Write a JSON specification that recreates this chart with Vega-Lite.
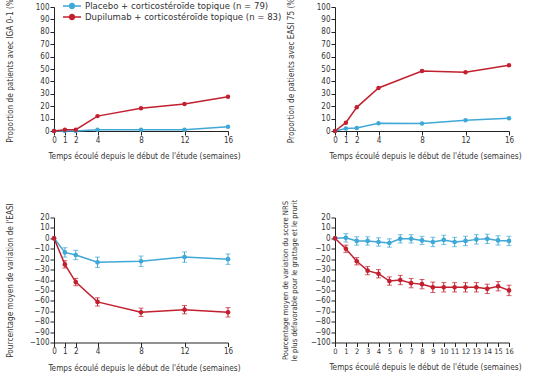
{
  "$schema": "https://vega.github.io/schema/vega-lite/v6.json",
  "padding": {"left": 4, "top": -5, "right": 5, "bottom": 5},
  "background": "white",
  "config": {
    "font": "Liberation Sans Narrow, DejaVu Sans Condensed, Liberation Sans, sans-serif",
    "view": {"stroke": null},
    "axis": {"grid": false, "domainColor": "#222", "tickColor": "#222", "labelColor": "#333", "titleColor": "#333", "labelFontSize": 8, "titleFontSize": 8.2, "titleFontWeight": "normal", "tickSize": 4, "labelPadding": 1, "domainWidth": 1, "labelOverlap": false},
    "axisX": {"labelFlush": false}
  },
  "datasets": {
    "d": [
      {"panel": "IGA", "group": "Placebo + corticostéroïde topique (n = 79)", "week": 0, "value": 0},
      {"panel": "IGA", "group": "Placebo + corticostéroïde topique (n = 79)", "week": 1, "value": 0},
      {"panel": "IGA", "group": "Placebo + corticostéroïde topique (n = 79)", "week": 2, "value": 0},
      {"panel": "IGA", "group": "Placebo + corticostéroïde topique (n = 79)", "week": 4, "value": 1},
      {"panel": "IGA", "group": "Placebo + corticostéroïde topique (n = 79)", "week": 8, "value": 1},
      {"panel": "IGA", "group": "Placebo + corticostéroïde topique (n = 79)", "week": 12, "value": 1},
      {"panel": "IGA", "group": "Placebo + corticostéroïde topique (n = 79)", "week": 16, "value": 3.5},
      {"panel": "IGA", "group": "Dupilumab + corticostéroïde topique (n = 83)", "week": 0, "value": 0},
      {"panel": "IGA", "group": "Dupilumab + corticostéroïde topique (n = 83)", "week": 1, "value": 1},
      {"panel": "IGA", "group": "Dupilumab + corticostéroïde topique (n = 83)", "week": 2, "value": 1},
      {"panel": "IGA", "group": "Dupilumab + corticostéroïde topique (n = 83)", "week": 4, "value": 12},
      {"panel": "IGA", "group": "Dupilumab + corticostéroïde topique (n = 83)", "week": 8, "value": 18.3},
      {"panel": "IGA", "group": "Dupilumab + corticostéroïde topique (n = 83)", "week": 12, "value": 21.8},
      {"panel": "IGA", "group": "Dupilumab + corticostéroïde topique (n = 83)", "week": 16, "value": 27.7},

      {"panel": "EASI75", "group": "Placebo + corticostéroïde topique (n = 79)", "week": 0, "value": 0},
      {"panel": "EASI75", "group": "Placebo + corticostéroïde topique (n = 79)", "week": 1, "value": 2},
      {"panel": "EASI75", "group": "Placebo + corticostéroïde topique (n = 79)", "week": 2, "value": 2.5},
      {"panel": "EASI75", "group": "Placebo + corticostéroïde topique (n = 79)", "week": 4, "value": 6.2},
      {"panel": "EASI75", "group": "Placebo + corticostéroïde topique (n = 79)", "week": 8, "value": 6},
      {"panel": "EASI75", "group": "Placebo + corticostéroïde topique (n = 79)", "week": 12, "value": 8.6},
      {"panel": "EASI75", "group": "Placebo + corticostéroïde topique (n = 79)", "week": 16, "value": 10.2},
      {"panel": "EASI75", "group": "Dupilumab + corticostéroïde topique (n = 83)", "week": 0, "value": 0},
      {"panel": "EASI75", "group": "Dupilumab + corticostéroïde topique (n = 83)", "week": 1, "value": 6.7},
      {"panel": "EASI75", "group": "Dupilumab + corticostéroïde topique (n = 83)", "week": 2, "value": 19.1},
      {"panel": "EASI75", "group": "Dupilumab + corticostéroïde topique (n = 83)", "week": 4, "value": 34.7},
      {"panel": "EASI75", "group": "Dupilumab + corticostéroïde topique (n = 83)", "week": 8, "value": 48.4},
      {"panel": "EASI75", "group": "Dupilumab + corticostéroïde topique (n = 83)", "week": 12, "value": 47.3},
      {"panel": "EASI75", "group": "Dupilumab + corticostéroïde topique (n = 83)", "week": 16, "value": 53},

      {"panel": "EASI", "group": "Placebo + corticostéroïde topique (n = 79)", "week": 0, "value": 0, "lo": 0, "hi": 0},
      {"panel": "EASI", "group": "Placebo + corticostéroïde topique (n = 79)", "week": 1, "value": -13.5, "lo": -18, "hi": -9},
      {"panel": "EASI", "group": "Placebo + corticostéroïde topique (n = 79)", "week": 2, "value": -16, "lo": -20.5, "hi": -11.5},
      {"panel": "EASI", "group": "Placebo + corticostéroïde topique (n = 79)", "week": 4, "value": -23, "lo": -28, "hi": -18},
      {"panel": "EASI", "group": "Placebo + corticostéroïde topique (n = 79)", "week": 8, "value": -22, "lo": -27, "hi": -17},
      {"panel": "EASI", "group": "Placebo + corticostéroïde topique (n = 79)", "week": 12, "value": -18, "lo": -23, "hi": -13},
      {"panel": "EASI", "group": "Placebo + corticostéroïde topique (n = 79)", "week": 16, "value": -20, "lo": -25, "hi": -15},
      {"panel": "EASI", "group": "Dupilumab + corticostéroïde topique (n = 83)", "week": 0, "value": 0, "lo": 0, "hi": 0},
      {"panel": "EASI", "group": "Dupilumab + corticostéroïde topique (n = 83)", "week": 1, "value": -25, "lo": -28.5, "hi": -21.5},
      {"panel": "EASI", "group": "Dupilumab + corticostéroïde topique (n = 83)", "week": 2, "value": -42, "lo": -45.5, "hi": -38.5},
      {"panel": "EASI", "group": "Dupilumab + corticostéroïde topique (n = 83)", "week": 4, "value": -61, "lo": -65, "hi": -57},
      {"panel": "EASI", "group": "Dupilumab + corticostéroïde topique (n = 83)", "week": 8, "value": -71, "lo": -75, "hi": -67},
      {"panel": "EASI", "group": "Dupilumab + corticostéroïde topique (n = 83)", "week": 12, "value": -68.5, "lo": -72.5, "hi": -64.5},
      {"panel": "EASI", "group": "Dupilumab + corticostéroïde topique (n = 83)", "week": 16, "value": -71, "lo": -75.5, "hi": -66.5},

      {"panel": "NRS", "group": "Placebo + corticostéroïde topique (n = 79)", "week": 0, "value": 0, "lo": 0, "hi": 0},
      {"panel": "NRS", "group": "Placebo + corticostéroïde topique (n = 79)", "week": 1, "value": 0.5, "lo": -3.5, "hi": 4.5},
      {"panel": "NRS", "group": "Placebo + corticostéroïde topique (n = 79)", "week": 2, "value": -2.5, "lo": -6.5, "hi": 1.5},
      {"panel": "NRS", "group": "Placebo + corticostéroïde topique (n = 79)", "week": 3, "value": -2.5, "lo": -6.5, "hi": 1.5},
      {"panel": "NRS", "group": "Placebo + corticostéroïde topique (n = 79)", "week": 4, "value": -3.5, "lo": -7.5, "hi": 0.5},
      {"panel": "NRS", "group": "Placebo + corticostéroïde topique (n = 79)", "week": 5, "value": -4.5, "lo": -8.5, "hi": -0.5},
      {"panel": "NRS", "group": "Placebo + corticostéroïde topique (n = 79)", "week": 6, "value": -0.5, "lo": -4.5, "hi": 3.5},
      {"panel": "NRS", "group": "Placebo + corticostéroïde topique (n = 79)", "week": 7, "value": -0.5, "lo": -4.5, "hi": 3.5},
      {"panel": "NRS", "group": "Placebo + corticostéroïde topique (n = 79)", "week": 8, "value": -2, "lo": -6, "hi": 2},
      {"panel": "NRS", "group": "Placebo + corticostéroïde topique (n = 79)", "week": 9, "value": -3.5, "lo": -8, "hi": 1},
      {"panel": "NRS", "group": "Placebo + corticostéroïde topique (n = 79)", "week": 10, "value": -1.5, "lo": -6, "hi": 3},
      {"panel": "NRS", "group": "Placebo + corticostéroïde topique (n = 79)", "week": 11, "value": -3.5, "lo": -8, "hi": 1},
      {"panel": "NRS", "group": "Placebo + corticostéroïde topique (n = 79)", "week": 12, "value": -2.5, "lo": -7, "hi": 2},
      {"panel": "NRS", "group": "Placebo + corticostéroïde topique (n = 79)", "week": 13, "value": -1, "lo": -5.5, "hi": 3.5},
      {"panel": "NRS", "group": "Placebo + corticostéroïde topique (n = 79)", "week": 14, "value": -0.5, "lo": -5, "hi": 4},
      {"panel": "NRS", "group": "Placebo + corticostéroïde topique (n = 79)", "week": 15, "value": -2, "lo": -6.5, "hi": 2.5},
      {"panel": "NRS", "group": "Placebo + corticostéroïde topique (n = 79)", "week": 16, "value": -2.5, "lo": -7, "hi": 2},
      {"panel": "NRS", "group": "Dupilumab + corticostéroïde topique (n = 83)", "week": 0, "value": 0, "lo": 0, "hi": 0},
      {"panel": "NRS", "group": "Dupilumab + corticostéroïde topique (n = 83)", "week": 1, "value": -10, "lo": -13.5, "hi": -6.5},
      {"panel": "NRS", "group": "Dupilumab + corticostéroïde topique (n = 83)", "week": 2, "value": -22, "lo": -25.5, "hi": -18.5},
      {"panel": "NRS", "group": "Dupilumab + corticostéroïde topique (n = 83)", "week": 3, "value": -31, "lo": -35, "hi": -27},
      {"panel": "NRS", "group": "Dupilumab + corticostéroïde topique (n = 83)", "week": 4, "value": -34, "lo": -38, "hi": -30},
      {"panel": "NRS", "group": "Dupilumab + corticostéroïde topique (n = 83)", "week": 5, "value": -41, "lo": -45, "hi": -37},
      {"panel": "NRS", "group": "Dupilumab + corticostéroïde topique (n = 83)", "week": 6, "value": -40, "lo": -44.5, "hi": -35.5},
      {"panel": "NRS", "group": "Dupilumab + corticostéroïde topique (n = 83)", "week": 7, "value": -43, "lo": -47.5, "hi": -38.5},
      {"panel": "NRS", "group": "Dupilumab + corticostéroïde topique (n = 83)", "week": 8, "value": -44, "lo": -48.5, "hi": -39.5},
      {"panel": "NRS", "group": "Dupilumab + corticostéroïde topique (n = 83)", "week": 9, "value": -47, "lo": -52, "hi": -42},
      {"panel": "NRS", "group": "Dupilumab + corticostéroïde topique (n = 83)", "week": 10, "value": -47, "lo": -51.5, "hi": -42.5},
      {"panel": "NRS", "group": "Dupilumab + corticostéroïde topique (n = 83)", "week": 11, "value": -47, "lo": -51.5, "hi": -42.5},
      {"panel": "NRS", "group": "Dupilumab + corticostéroïde topique (n = 83)", "week": 12, "value": -47, "lo": -51.5, "hi": -42.5},
      {"panel": "NRS", "group": "Dupilumab + corticostéroïde topique (n = 83)", "week": 13, "value": -47, "lo": -51.5, "hi": -42.5},
      {"panel": "NRS", "group": "Dupilumab + corticostéroïde topique (n = 83)", "week": 14, "value": -48.5, "lo": -53, "hi": -44},
      {"panel": "NRS", "group": "Dupilumab + corticostéroïde topique (n = 83)", "week": 15, "value": -46, "lo": -50.5, "hi": -41.5},
      {"panel": "NRS", "group": "Dupilumab + corticostéroïde topique (n = 83)", "week": 16, "value": -50, "lo": -55, "hi": -45}
    ]
  },
  "columns": 2,
  "bounds": "flush",
  "spacing": {"row": 86.5, "column": 107},
  "resolve": {"legend": {"color": "independent"}},
  "concat": [
    {
      "width": 174, "height": 124,
      "data": {"name": "d"},
      "transform": [{"filter": "datum.panel == 'IGA'"}],
      "mark": {"type": "line", "strokeWidth": 1.5, "point": {"filled": true, "size": 20}},
      "encoding": {
        "x": {"field": "week", "type": "quantitative", "scale": {"domain": [0, 16], "nice": false},
              "axis": {"values": [0, 1, 2, 4, 8, 12, 16], "title": "Temps écoulé depuis le début de l'étude (semaines)", "titlePadding": 8.5, "titleX": 90}},
        "y": {"field": "value", "type": "quantitative", "scale": {"domain": [0, 100], "nice": false},
              "axis": {"values": [0, 10, 20, 30, 40, 50, 60, 70, 80, 90, 100], "title": "Proportion de patients avec IGA 0-1 (%)", "titleX": -40}},
        "color": {"field": "group", "type": "nominal",
                  "scale": {"domain": ["Placebo + corticostéroïde topique (n = 79)", "Dupilumab + corticostéroïde topique (n = 83)"], "range": ["#3fa8d6", "#c2202f"]},
                  "legend": {"orient": "none", "legendX": 12.5, "legendY": -6.5, "title": null, "labelFontSize": 9.5, "labelColor": "#333", "labelLimit": 0, "rowPadding": 0,
                             "symbolType": "M-2,0L2,0M-0.55,0A0.55,0.55,0,1,1,0.55,0A0.55,0.55,0,1,1,-0.55,0Z", "symbolSize": 81, "symbolStrokeWidth": 1.5, "labelOffset": 7.5,
                             "encode": {"symbols": {"update": {"fill": {"signal": "datum.index === 0 ? '#3fa8d6' : '#c2202f'"}}}}}}
      }
    },
    {
      "width": 174, "height": 124,
      "data": {"name": "d"},
      "transform": [{"filter": "datum.panel == 'EASI75'"}],
      "mark": {"type": "line", "strokeWidth": 1.5, "point": {"filled": true, "size": 20}},
      "encoding": {
        "x": {"field": "week", "type": "quantitative", "scale": {"domain": [0, 16], "nice": false},
              "axis": {"values": [0, 1, 2, 4, 8, 12, 16], "title": "Temps écoulé depuis le début de l'étude (semaines)", "titlePadding": 8.5, "titleX": 90}},
        "y": {"field": "value", "type": "quantitative", "scale": {"domain": [0, 100], "nice": false},
              "axis": {"values": [0, 10, 20, 30, 40, 50, 60, 70, 80, 90, 100], "title": "Proportion de patients avec EASI 75 (%)", "titleX": -40}},
        "color": {"field": "group", "type": "nominal",
                  "scale": {"domain": ["Placebo + corticostéroïde topique (n = 79)", "Dupilumab + corticostéroïde topique (n = 83)"], "range": ["#3fa8d6", "#c2202f"]},
                  "legend": null}
      }
    },
    {
      "width": 174, "height": 125,
      "data": {"name": "d"},
      "transform": [{"filter": "datum.panel == 'EASI'"}],
      "encoding": {
        "x": {"field": "week", "type": "quantitative", "scale": {"domain": [0, 16], "nice": false},
              "axis": {"values": [0, 1, 2, 4, 8, 12, 16], "title": "Temps écoulé depuis le début de l'étude (semaines)", "titlePadding": 8.5, "titleX": 90}},
        "y": {"field": "value", "type": "quantitative", "scale": {"domain": [-100, 20], "nice": false},
              "axis": {"values": [-100, -90, -80, -70, -60, -50, -40, -30, -20, -10, 0, 10, 20], "title": "Pourcentage moyen de variation de l'EASI", "titleX": -40}},
        "color": {"field": "group", "type": "nominal",
                  "scale": {"domain": ["Placebo + corticostéroïde topique (n = 79)", "Dupilumab + corticostéroïde topique (n = 83)"], "range": ["#3fa8d6", "#c2202f"]},
                  "legend": null}
      },
      "layer": [
        {"data": {"values": [{"z": 0}]},
         "mark": {"type": "rule", "color": "#888", "strokeDash": [2, 2], "strokeWidth": 1},
         "encoding": {"y": {"field": "z", "type": "quantitative", "scale": {"domain": [-100, 20], "nice": false},
              "axis": {"values": [-100, -90, -80, -70, -60, -50, -40, -30, -20, -10, 0, 10, 20], "title": "Pourcentage moyen de variation de l'EASI", "titleX": -40}},
                      "x": {"datum": 0}, "x2": {"datum": 16}, "color": {"value": "#888"}}},
        {"transform": [{"filter": "datum.week > 0"}],
         "mark": {"type": "rule", "strokeWidth": 1},
         "encoding": {"y": {"field": "lo", "type": "quantitative", "scale": {"domain": [-100, 20], "nice": false},
              "axis": {"values": [-100, -90, -80, -70, -60, -50, -40, -30, -20, -10, 0, 10, 20], "title": "Pourcentage moyen de variation de l'EASI", "titleX": -40}}, "y2": {"field": "hi"}}},
        {"transform": [{"filter": "datum.week > 0"}],
         "mark": {"type": "tick", "orient": "horizontal", "size": 5, "thickness": 1},
         "encoding": {"y": {"field": "lo", "type": "quantitative", "scale": {"domain": [-100, 20], "nice": false},
              "axis": {"values": [-100, -90, -80, -70, -60, -50, -40, -30, -20, -10, 0, 10, 20], "title": "Pourcentage moyen de variation de l'EASI", "titleX": -40}}}},
        {"transform": [{"filter": "datum.week > 0"}],
         "mark": {"type": "tick", "orient": "horizontal", "size": 5, "thickness": 1},
         "encoding": {"y": {"field": "hi", "type": "quantitative", "scale": {"domain": [-100, 20], "nice": false},
              "axis": {"values": [-100, -90, -80, -70, -60, -50, -40, -30, -20, -10, 0, 10, 20], "title": "Pourcentage moyen de variation de l'EASI", "titleX": -40}}}},
        {"mark": {"type": "line", "strokeWidth": 1.5, "point": {"filled": true, "size": 22}}}
      ]
    },
    {
      "width": 174, "height": 125,
      "data": {"name": "d"},
      "transform": [{"filter": "datum.panel == 'NRS'"}],
      "encoding": {
        "x": {"field": "week", "type": "quantitative", "scale": {"domain": [0, 16], "nice": false},
              "axis": {"values": [0, 1, 2, 3, 4, 5, 6, 7, 8, 9, 10, 11, 12, 13, 14, 15, 16], "labelFontSize": 7.5, "title": "Temps écoulé depuis le début de l'étude (semaines)", "titlePadding": 8.5, "titleX": 90}},
        "y": {"field": "value", "type": "quantitative", "scale": {"domain": [-100, 20], "nice": false},
              "axis": {"values": [-100, -90, -80, -70, -60, -50, -40, -30, -20, -10, 0, 10, 20], "title": ["Pourcentage moyen de variation du score NRS", "le plus défavorable pour le grattage et le prurit"], "titleX": -46, "titleFontSize": 7.6, "titleLineHeight": 9}},
        "color": {"field": "group", "type": "nominal",
                  "scale": {"domain": ["Placebo + corticostéroïde topique (n = 79)", "Dupilumab + corticostéroïde topique (n = 83)"], "range": ["#3fa8d6", "#c2202f"]},
                  "legend": null}
      },
      "layer": [
        {"data": {"values": [{"z": 0}]},
         "mark": {"type": "rule", "color": "#888", "strokeDash": [2, 2], "strokeWidth": 1},
         "encoding": {"y": {"field": "z", "type": "quantitative", "scale": {"domain": [-100, 20], "nice": false},
              "axis": {"values": [-100, -90, -80, -70, -60, -50, -40, -30, -20, -10, 0, 10, 20], "title": ["Pourcentage moyen de variation du score NRS", "le plus défavorable pour le grattage et le prurit"], "titleX": -46, "titleFontSize": 7.6, "titleLineHeight": 9}},
                      "x": {"datum": 0}, "x2": {"datum": 16}, "color": {"value": "#888"}}},
        {"transform": [{"filter": "datum.week > 0"}],
         "mark": {"type": "rule", "strokeWidth": 1},
         "encoding": {"y": {"field": "lo", "type": "quantitative", "scale": {"domain": [-100, 20], "nice": false},
              "axis": {"values": [-100, -90, -80, -70, -60, -50, -40, -30, -20, -10, 0, 10, 20], "title": ["Pourcentage moyen de variation du score NRS", "le plus défavorable pour le grattage et le prurit"], "titleX": -46, "titleFontSize": 7.6, "titleLineHeight": 9}}, "y2": {"field": "hi"}}},
        {"transform": [{"filter": "datum.week > 0"}],
         "mark": {"type": "tick", "orient": "horizontal", "size": 5, "thickness": 1},
         "encoding": {"y": {"field": "lo", "type": "quantitative", "scale": {"domain": [-100, 20], "nice": false},
              "axis": {"values": [-100, -90, -80, -70, -60, -50, -40, -30, -20, -10, 0, 10, 20], "title": ["Pourcentage moyen de variation du score NRS", "le plus défavorable pour le grattage et le prurit"], "titleX": -46, "titleFontSize": 7.6, "titleLineHeight": 9}}}},
        {"transform": [{"filter": "datum.week > 0"}],
         "mark": {"type": "tick", "orient": "horizontal", "size": 5, "thickness": 1},
         "encoding": {"y": {"field": "hi", "type": "quantitative", "scale": {"domain": [-100, 20], "nice": false},
              "axis": {"values": [-100, -90, -80, -70, -60, -50, -40, -30, -20, -10, 0, 10, 20], "title": ["Pourcentage moyen de variation du score NRS", "le plus défavorable pour le grattage et le prurit"], "titleX": -46, "titleFontSize": 7.6, "titleLineHeight": 9}}}},
        {"mark": {"type": "line", "strokeWidth": 1.5, "point": {"filled": true, "size": 22}}}
      ]
    }
  ]
}
